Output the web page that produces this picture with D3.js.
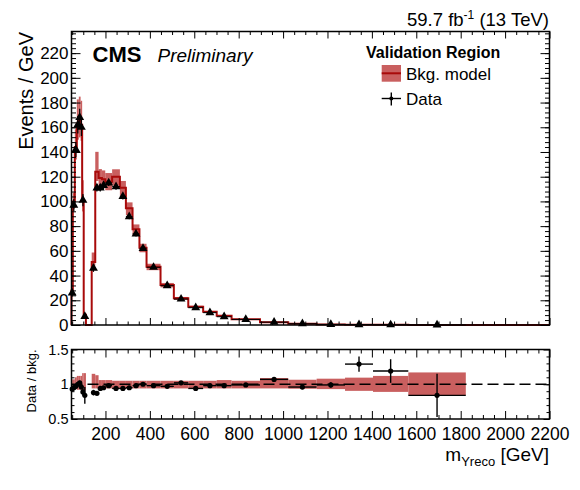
<!DOCTYPE html>
<html>
<head>
<meta charset="utf-8">
<script src="https://cdn.jsdelivr.net/npm/d3@7"></script>
<style>
    body { margin: 0; background: #fff; }
    text { font-family: "Liberation Sans", Arial, Helvetica, sans-serif; fill: #000; }
</style>
</head>
<body>
<svg id="chart" width="580" height="490"></svg>
<script>
/*******************************/
/*            DATA             */
/*******************************/

// bin edges in GeV (m_Yreco)
const binEdges = [47, 53, 62, 71, 80, 88, 95, 102, 112, 138, 154, 169, 184, 199, 230, 265, 292, 322, 353,
    385, 448, 508, 573, 640, 701, 768, 896, 1023, 1151, 1279, 1405, 1564, 1823, 2200];

// background model, events / GeV
const bkgValues = [28, 100, 144, 163, 165, 162, 101, 8.3, 0, 51, 124, 119, 118, 116, 120, 111, 94.5, 77.5, 62.6,
    47.2, 32.4, 21.6, 14.8, 10.8, 7.5, 4.6, 2.2, 1.1, 0.5, 0.25, 0.15, 0.05, 0];
// relative uncertainty of the background model (up / down)
const bkgRelUp = [0.07, 0.07, 0.1, 0.12, 0.12, 0.12, 0.16, 0.16, 0, 0.15, 0.13, 0.06, 0.06, 0.06, 0.05, 0.05, 0.05, 0.05, 0.05,
    0.05, 0.05, 0.05, 0.05, 0.05, 0.06, 0.05, 0.09, 0.065, 0.08, 0.095, 0.12, 0.17, 0];
const bkgRelDown = [0.06, 0.06, 0.07, 0.08, 0.08, 0.08, 0.09, 0.09, 0, 0.06, 0.06, 0.06, 0.06, 0.06, 0.06, 0.06, 0.06, 0.06, 0.06,
    0.06, 0.06, 0.06, 0.06, 0.06, 0.06, 0.06, 0.06, 0.065, 0.07, 0.095, 0.11, 0.155, 0];

// observed data, events / GeV
const dataValues = [26, 97, 142, 162, 168, 160, 101, 7, null, 46, 111, 111, 113, 115, 112, 104, 87.7, 73.7, 62,
    46.7, 31.8, 21, 14, 10, 6.7, 4.5, 2.3, 1.05, 0.5, 0.33, 0.18, 0.04, null];
const dataErrors = [3, 5, 6, 7, 7, 7, 5, 1, null, 3, 3, 3, 3, 2.5, 2.5, 2.5, 2.2, 2, 1.8,
    1.2, 1, 0.8, 0.6, 0.5, 0.4, 0.25, 0.15, 0.1, 0.06, 0.04, 0.03, 0.01, null];

// lower panel: data / bkg.
const ratioValues = [0.93, 0.95, 0.97, 1.0, 1.02, 0.96, 0.89, 0.84, null, 0.88, 0.87, 0.94, 0.95, 0.98, 0.94, 0.94, 0.95, 0.98, 1.0,
    0.98, 0.97, 1.02, 0.94, 0.98, 0.98, 0.99, 1.07, 0.96, 0.99, 1.29, 1.19, 0.84, null];
const ratioErrors = [0.03, 0.03, 0.03, 0.03, 0.03, 0.03, 0.05, 0.12, null, 0.04, 0.02, 0.02, 0.02, 0.02, 0.02, 0.02, 0.02, 0.02, 0.02,
    0.02, 0.02, 0.02, 0.02, 0.02, 0.02, 0.02, 0.03, 0.03, 0.04, 0.11, 0.17, 0.31, null];

// tick labels
const xTickLabels = [200, 400, 600, 800, 1000, 1200, 1400, 1600, 1800, 2000, 2200];
const yTickLabels = [0, 20, 40, 60, 80, 100, 120, 140, 160, 180, 200, 220];
const ratioTickLabels = [0.5, 1, 1.5];

/*******************************/
/*           LAYOUT            */
/*******************************/

const bandColor = "#c95f5f";
const lineColor = "#a80a0a";
const frame = { left: 71.5, right: 549.5 };
const mainPanel = { top: 31.5, bottom: 325 };
const ratioPanel = { top: 349.5, bottom: 419 };

const bins = bkgValues.map((b, i) => ({
    lo: binEdges[i], hi: binEdges[i + 1], bkg: b,
    up: b * (1 + bkgRelUp[i]), down: b * (1 - bkgRelDown[i]),
    rUp: 1 + bkgRelUp[i], rDown: 1 - bkgRelDown[i],
    data: dataValues[i], err: dataErrors[i],
    ratio: ratioValues[i], rErr: ratioErrors[i]
}));

const svg = d3.select("#chart");

const x = d3.scaleLinear().domain([47, 2200]).range([frame.left, frame.right]);
const y = d3.scaleLinear().domain([0, 237.5]).range([mainPanel.bottom, mainPanel.top]);
const yr = d3.scaleLinear().domain([0.5, 1.5]).range([ratioPanel.bottom, ratioPanel.top]);

const xMinor = d3.range(50, 2200, 50).filter(v => v % 200 !== 0 && v > 47);

// inside ticks on all four sides, ROOT style
const drawTicks = (axis, transform, cls) => {
    const g = svg.append("g").attr("class", cls).attr("transform", transform).call(axis);
    g.select(".domain").remove();
    g.selectAll(".tick line").attr("stroke", "#000").attr("stroke-width", 1);
    return g;
};

const drawFrameAxes = (ys, top, bottom, yMajor, yMinor, yLen, xLen, showX) => {
    drawTicks(d3.axisBottom(x).tickValues(xMinor).tickFormat("").tickSize(-xLen / 2), `translate(0,${bottom})`, "minor");
    drawTicks(d3.axisTop(x).tickValues(xMinor).tickFormat("").tickSize(-xLen / 2), `translate(0,${top})`, "minor");
    drawTicks(d3.axisTop(x).tickValues(xTickLabels).tickFormat("").tickSize(-xLen), `translate(0,${top})`, "major");
    const xb = drawTicks(d3.axisBottom(x).tickValues(xTickLabels).tickSize(-xLen).tickPadding(8)
        .tickFormat(showX ? d3.format("d") : ""), `translate(0,${bottom})`, "major");
    xb.selectAll("text").attr("font-size", "17.5px").attr("dy", "0.77em");

    drawTicks(d3.axisLeft(ys).tickValues(yMinor).tickFormat("").tickSize(-yLen / 2), `translate(${frame.left},0)`, "minor");
    drawTicks(d3.axisRight(ys).tickValues(yMinor).tickFormat("").tickSize(-yLen / 2), `translate(${frame.right},0)`, "minor");
    drawTicks(d3.axisRight(ys).tickValues(yMajor).tickFormat("").tickSize(-yLen), `translate(${frame.right},0)`, "major");
    return drawTicks(d3.axisLeft(ys).tickValues(yMajor).tickSize(-yLen).tickPadding(3), `translate(${frame.left},0)`, "major");
};

/*******************************/
/*         MAIN PANEL          */
/*******************************/

const filled = bins.filter(d => d.bkg > 0);

svg.selectAll("rect.band")
    .data(filled)
    .enter()
    .append("rect")
    .attr("class", "band")
    .attr("x", d => x(d.lo))
    .attr("width", d => x(d.hi) - x(d.lo))
    .attr("y", d => y(d.up))
    .attr("height", d => y(d.down) - y(d.up))
    .attr("fill", bandColor);

// background model as a step line
const steps = [[x(binEdges[0]), y(0)]];
bins.forEach(d => { steps.push([x(d.lo), y(d.bkg)]); steps.push([x(d.hi), y(d.bkg)]); });
svg.append("path")
    .attr("d", d3.line()(steps))
    .attr("fill", "none")
    .attr("stroke", lineColor)
    .attr("stroke-width", 2);

const observed = bins.filter(d => d.data !== null);

svg.selectAll("line.xerr")
    .data(observed)
    .enter()
    .append("line")
    .attr("x1", d => x(d.lo)).attr("x2", d => x(d.hi))
    .attr("y1", d => y(d.data)).attr("y2", d => y(d.data))
    .attr("stroke", "#000").attr("stroke-width", 1);

svg.selectAll("line.yerr")
    .data(observed)
    .enter()
    .append("line")
    .attr("x1", d => x((d.lo + d.hi) / 2)).attr("x2", d => x((d.lo + d.hi) / 2))
    .attr("y1", d => y(d.data + d.err)).attr("y2", d => y(Math.max(0, d.data - d.err)))
    .attr("stroke", "#000").attr("stroke-width", 1.2);

svg.selectAll("path.marker")
    .data(observed)
    .enter()
    .append("path")
    .attr("d", d3.symbol(d3.symbolTriangle, 34))
    .attr("transform", d => `translate(${x((d.lo + d.hi) / 2)},${y(d.data)})`)
    .attr("fill", "#000");

const yAxis = drawFrameAxes(y, mainPanel.top, mainPanel.bottom, yTickLabels, d3.range(0, 237, 4), 9, 7, false);
yAxis.selectAll("text").attr("font-size", "17px");

svg.append("rect")
    .attr("x", frame.left).attr("y", mainPanel.top)
    .attr("width", frame.right - frame.left).attr("height", mainPanel.bottom - mainPanel.top)
    .attr("fill", "none").attr("stroke", "#000").attr("stroke-width", 1.5);

/*******************************/
/*         RATIO PANEL         */
/*******************************/

svg.selectAll("rect.rband")
    .data(filled)
    .enter()
    .append("rect")
    .attr("x", d => x(d.lo))
    .attr("width", d => x(d.hi) - x(d.lo))
    .attr("y", d => yr(d.rUp))
    .attr("height", d => yr(d.rDown) - yr(d.rUp))
    .attr("fill", bandColor);

svg.append("line")
    .attr("x1", frame.left).attr("x2", frame.right)
    .attr("y1", yr(1)).attr("y2", yr(1))
    .attr("stroke", "#000").attr("stroke-width", 1.4)
    .attr("stroke-dasharray", "11,5");

const ratios = bins.filter(d => d.ratio !== null);

svg.selectAll("line.rxerr")
    .data(ratios)
    .enter()
    .append("line")
    .attr("x1", d => x(d.lo)).attr("x2", d => x(d.hi))
    .attr("y1", d => yr(d.ratio)).attr("y2", d => yr(d.ratio))
    .attr("stroke", "#000").attr("stroke-width", 1.4);

svg.selectAll("line.ryerr")
    .data(ratios)
    .enter()
    .append("line")
    .attr("x1", d => x((d.lo + d.hi) / 2)).attr("x2", d => x((d.lo + d.hi) / 2))
    .attr("y1", d => yr(d.ratio + d.rErr)).attr("y2", d => yr(d.ratio - d.rErr))
    .attr("stroke", "#000").attr("stroke-width", 1.4);

svg.selectAll("circle.rpoint")
    .data(ratios)
    .enter()
    .append("circle")
    .attr("cx", d => x((d.lo + d.hi) / 2))
    .attr("cy", d => yr(d.ratio))
    .attr("r", 2.6)
    .attr("fill", "#000");

const rAxis = drawFrameAxes(yr, ratioPanel.top, ratioPanel.bottom, ratioTickLabels, d3.range(0.6, 1.45, 0.1), 6, 8, true);
rAxis.selectAll("text").attr("font-size", "14.5px").text(d => d3.format("~g")(d));

svg.append("rect")
    .attr("x", frame.left).attr("y", ratioPanel.top)
    .attr("width", frame.right - frame.left).attr("height", ratioPanel.bottom - ratioPanel.top)
    .attr("fill", "none").attr("stroke", "#000").attr("stroke-width", 1.5);

/*******************************/
/*       TITLES & LEGEND       */
/*******************************/

const lumi = svg.append("text").attr("x", 549).attr("y", 26).attr("text-anchor", "end").attr("font-size", "18.5px");
lumi.append("tspan").text("59.7 fb");
lumi.append("tspan").attr("dy", -7).attr("font-size", "12px").text("-1");
lumi.append("tspan").attr("dy", 7).text(" (13 TeV)");

svg.append("text").attr("x", 92.5).attr("y", 61.5).attr("font-size", "22px").attr("font-weight", "bold").text("CMS");
svg.append("text").attr("x", 157.5).attr("y", 61.5).attr("font-size", "19px").attr("font-style", "italic").text("Preliminary");

svg.append("text")
    .attr("transform", "translate(33,32) rotate(-90)")
    .attr("text-anchor", "end").attr("font-size", "20px")
    .text("Events / GeV");

svg.append("text")
    .attr("transform", `translate(36,${ratioPanel.top}) rotate(-90)`)
    .attr("text-anchor", "end").attr("font-size", "13px")
    .text("Data / bkg.");

const xTitle = svg.append("text").attr("x", 549).attr("y", 461).attr("text-anchor", "end").attr("font-size", "19px");
xTitle.append("tspan").text("m");
xTitle.append("tspan").attr("dy", 5).attr("font-size", "13px").text("Yreco");
xTitle.append("tspan").attr("dy", -5).text(" [GeV]");

svg.append("text").attr("x", 366).attr("y", 58.3).attr("font-size", "16px").attr("font-weight", "bold").text("Validation Region");

svg.append("rect").attr("x", 381.7).attr("y", 65).attr("width", 19.3).attr("height", 16.7).attr("fill", bandColor);
svg.append("line").attr("x1", 381.7).attr("x2", 401).attr("y1", 73.3).attr("y2", 73.3)
    .attr("stroke", lineColor).attr("stroke-width", 2);
svg.append("text").attr("x", 406).attr("y", 79.5).attr("font-size", "17px").text("Bkg. model");

svg.append("line").attr("x1", 381.7).attr("x2", 401).attr("y1", 98.5).attr("y2", 98.5).attr("stroke", "#000").attr("stroke-width", 1.4);
svg.append("line").attr("x1", 391.3).attr("x2", 391.3).attr("y1", 92.5).attr("y2", 105.5).attr("stroke", "#000").attr("stroke-width", 1.4);
svg.append("circle").attr("cx", 391.3).attr("cy", 98.5).attr("r", 2).attr("fill", "#000");
svg.append("text").attr("x", 406).attr("y", 104.5).attr("font-size", "17px").text("Data");
</script>
</body>
</html>
